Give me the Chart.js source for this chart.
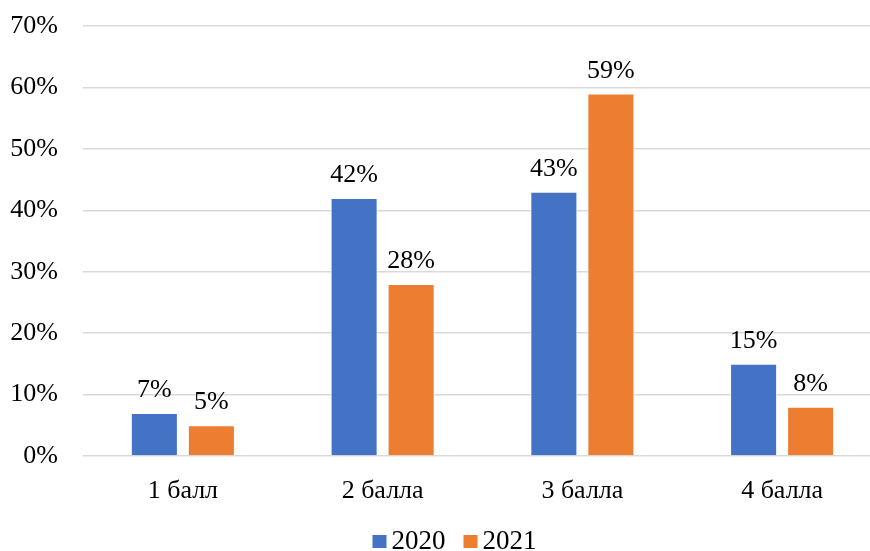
<!DOCTYPE html>
<html>
<head>
<meta charset="utf-8">
<script src="https://cdn.jsdelivr.net/npm/chart.js@4"></script>
<style>
  html, body { margin: 0; padding: 0; background: #fff; overflow: hidden; }
  /* the original picture is cropped on the right, so the plot runs past the window edge */
  #wrap { width: 885px; height: 551px; }
</style>
</head>
<body>
<div id="wrap"><canvas id="chart"></canvas></div>
<script>
const categories = ['1 балл', '2 балла', '3 балла', '4 балла'];
const seriesNames = ['2020', '2021'];
const values2020 = [7, 42, 43, 15];
const values2021 = [5, 28, 59, 8];
const yTicks = [0, 10, 20, 30, 40, 50, 60, 70];

const FONT = '"Liberation Serif", "Times New Roman", serif';

// draws the % labels above each bar
const barLabels = {
  id: 'barLabels',
  afterDatasetsDraw(chart) {
    const ctx = chart.ctx;
    ctx.save();
    ctx.font = '26px ' + FONT;
    ctx.fillStyle = '#000';
    ctx.textAlign = 'center';
    ctx.textBaseline = 'alphabetic';
    chart.data.datasets.forEach((ds, i) => {
      chart.getDatasetMeta(i).data.forEach((bar, j) => {
        ctx.fillText(ds.data[j] + '%', bar.x, bar.y - 16);
      });
    });
    ctx.restore();
  }
};

// excel-like legend under the chart: small square, tight gap, text
const bottomLegend = {
  id: 'bottomLegend',
  afterDraw(chart) {
    const ctx = chart.ctx;
    ctx.save();
    ctx.font = '27px ' + FONT;
    ctx.textBaseline = 'middle';
    ctx.textAlign = 'left';
    const y = chart.height - 9;
    const widths = chart.data.datasets.map(ds => 14 + 5 + ctx.measureText(ds.label).width);
    const total = widths.reduce((a, b) => a + b, 0) + 18 * (widths.length - 1);
    let x = chart.width / 2 + 12 - total / 2;
    chart.data.datasets.forEach((ds, i) => {
      ctx.fillStyle = ds.backgroundColor;
      ctx.fillRect(x, y - 7, 14, 13);
      ctx.fillStyle = '#000';
      ctx.fillText(ds.label, x + 19, y);
      x += widths[i] + 18;
    });
    ctx.restore();
  }
};

new Chart(document.getElementById('chart').getContext('2d'), {
  type: 'bar',
  data: {
    labels: categories,
    datasets: [
      { label: seriesNames[0], data: values2020, backgroundColor: '#4472C4', borderColor: '#fff', borderWidth: 1 },
      { label: seriesNames[1], data: values2021, backgroundColor: '#ED7D31', borderColor: '#fff', borderWidth: 1 }
    ]
  },
  options: {
    responsive: true,
    maintainAspectRatio: false,
    animation: false,
    layout: { padding: { left: 8, right: 3, top: 0, bottom: 46 } },
    datasets: { bar: { categoryPercentage: 0.571, barPercentage: 0.825 } },
    plugins: {
      legend: { display: false },
      tooltip: { enabled: false }
    },
    scales: {
      x: {
        grid: { display: false, drawTicks: false },
        border: { display: false },
        afterFit: axis => { axis.height = 49; },
        ticks: { font: { family: FONT, size: 26 }, color: '#000', padding: 20 }
      },
      y: {
        min: 0,
        max: 70,
        afterBuildTicks: axis => { axis.ticks = yTicks.map(v => ({ value: v })); },
        afterFit: axis => { axis.width = 75; axis.paddingTop = 26; axis.paddingBottom = 0; },
        grid: { color: '#d9d9d9', lineWidth: 1.5, drawTicks: false },
        border: { display: false },
        ticks: { font: { family: FONT, size: 26 }, color: '#000', padding: 25, callback: v => v + '%' }
      }
    }
  },
  plugins: [barLabels, bottomLegend]
});
</script>
</body>
</html>
